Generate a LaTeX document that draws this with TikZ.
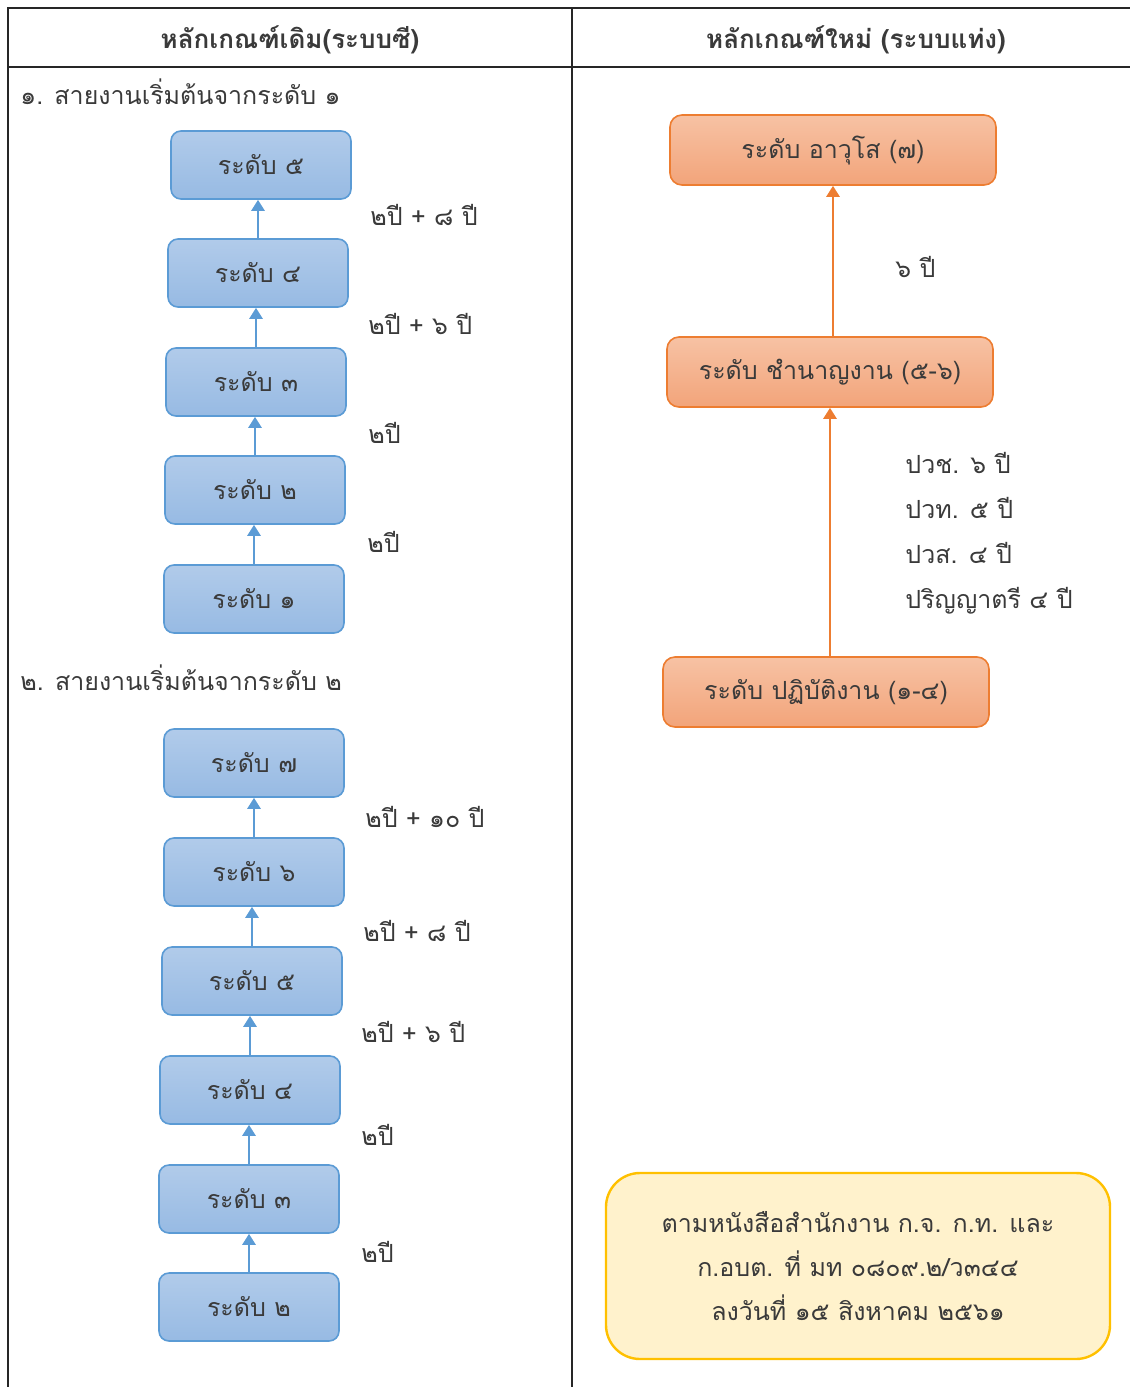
\documentclass[tikz,border=0pt]{standalone}
\usepackage{fontspec}
\setmainfont[Script=Thai]{Loma}
\usetikzlibrary{arrows.meta,positioning}
\definecolor{lvlblue}{HTML}{5B9BD5}
\definecolor{lvlbluetop}{HTML}{B1CBEA}
\definecolor{lvlbluebot}{HTML}{97BAE3}
\definecolor{lvlorange}{HTML}{ED7D31}
\definecolor{lvlorangetop}{HTML}{F7C2A4}
\definecolor{lvlorangebot}{HTML}{F2A47A}
\definecolor{notefill}{HTML}{FFF2CC}
\definecolor{noteline}{HTML}{FFC000}
\definecolor{txt}{HTML}{3A3A3A}
\newcommand\thsize{\fontsize{12.5}{15}\selectfont}
\tikzset{>={Triangle[width=6.5pt,length=5.5pt]}}
\tikzset{
  oldbox/.style={draw=lvlblue,line width=0.8pt,rounded corners=5pt,
    top color=lvlbluetop,bottom color=lvlbluebot,
    minimum width=90pt,minimum height=34pt,font=\thsize,text=txt},
  newbox/.style={draw=lvlorange,line width=0.8pt,rounded corners=6pt,
    top color=lvlorangetop,bottom color=lvlorangebot,
    minimum width=163pt,minimum height=35pt,font=\thsize,text=txt},
  oldup/.style={->,draw=lvlblue,fill=lvlblue,line width=1.3pt},
  newup/.style={->,draw=lvlorange,fill=lvlorange,line width=1.3pt},
  gap/.style={anchor=west,inner sep=0pt,font=\thsize,text=txt},
  grid/.style={line width=1.2pt,black!85}
}

\begin{document}
\begin{tikzpicture}[x=0.5pt,y=-0.5pt]
\useasboundingbox (0,0) rectangle (1130,1387);
% table
\draw[grid] (8,1387) -- (8,8) -- (1130,8);
\draw[grid] (8,67) -- (1130,67);
\draw[grid] (572,8) -- (572,1387);
\node[font=\fontsize{13}{16}\selectfont\bfseries,text=txt] (headold) at (290,40) {หลักเกณฑ์เดิม(ระบบซี)};
\node[font=\fontsize{13}{16}\selectfont\bfseries,text=txt] (headnew) at (856,40) {หลักเกณฑ์ใหม่ (ระบบแท่ง)};

% old system, line 1
\node[gap] (lineA) at (20,92) {๑. สายงานเริ่มต้นจากระดับ ๑};
\node[oldbox] (a5) at (261,165) {ระดับ ๕};
\node[oldbox] (a4) at (258,273) {ระดับ ๔};
\node[oldbox] (a3) at (256,382) {ระดับ ๓};
\node[oldbox] (a2) at (255,490) {ระดับ ๒};
\node[oldbox] (a1) at (254,599) {ระดับ ๑};
\draw[oldup] (a1.north) -- (a1.north |- a2.south);
\draw[oldup] (a2.north) -- (a2.north |- a3.south);
\draw[oldup] (a3.north) -- (a3.north |- a4.south);
\draw[oldup] (a4.north) -- (a4.north |- a5.south);
\node[gap] (gapA4) at (370,215) {๒ปี + ๘ ปี};
\node[gap] (gapA3) at (368,324) {๒ปี + ๖ ปี};
\node[gap] (gapA2) at (368,433) {๒ปี};
\node[gap] (gapA1) at (367,542) {๒ปี};

% old system, line 2
\node[gap] (lineB) at (20,678) {๒. สายงานเริ่มต้นจากระดับ ๒};
\node[oldbox] (b7) at (254,763) {ระดับ ๗};
\node[oldbox] (b6) at (254,872) {ระดับ ๖};
\node[oldbox] (b5) at (252,981) {ระดับ ๕};
\node[oldbox] (b4) at (250,1090) {ระดับ ๔};
\node[oldbox] (b3) at (249,1199) {ระดับ ๓};
\node[oldbox] (b2) at (249,1307) {ระดับ ๒};
\draw[oldup] (b2.north) -- (b2.north |- b3.south);
\draw[oldup] (b3.north) -- (b3.north |- b4.south);
\draw[oldup] (b4.north) -- (b4.north |- b5.south);
\draw[oldup] (b5.north) -- (b5.north |- b6.south);
\draw[oldup] (b6.north) -- (b6.north |- b7.south);
\node[gap] (gapB6) at (365,817) {๒ปี + ๑๐ ปี};
\node[gap] (gapB5) at (363,931) {๒ปี + ๘ ปี};
\node[gap] (gapB4) at (361,1032) {๒ปี + ๖ ปี};
\node[gap] (gapB3) at (361,1135) {๒ปี};
\node[gap] (gapB2) at (361,1252) {๒ปี};

% new system
\node[newbox] (senior) at (833,150) {ระดับ อาวุโส (๗)};
\node[newbox] (expert) at (830,372) {ระดับ ชำนาญงาน (๕-๖)};
\node[newbox] (oper) at (826,692) {ระดับ ปฏิบัติงาน (๑-๔)};
\draw[newup] (expert.north -| senior.south) -- (senior.south);
\draw[newup] (oper.north -| expert.south) -- (expert.south);
\node[gap] (gapSenior) at (895,267) {๖ ปี};
\node[gap,align=left,font=\fontsize{12.5}{22.5}\selectfont] (gapExpert) at (905,533)
  {ปวช. ๖ ปี\\ปวท. ๕ ปี\\ปวส. ๔ ปี\\ปริญญาตรี ๔ ปี};

% reference note
\node[draw=noteline,line width=1.2pt,fill=notefill,rounded corners=17pt,
  minimum width=252pt,minimum height=93pt,align=center,
  font=\fontsize{12.5}{22}\selectfont,text=txt] (note) at (858,1266)
  {ตามหนังสือสำนักงาน ก.จ. ก.ท. และ\\ก.อบต. ที่ มท ๐๘๐๙.๒/ว๓๔๔\\ลงวันที่ ๑๕ สิงหาคม ๒๕๖๑};
\end{tikzpicture}
\end{document}
